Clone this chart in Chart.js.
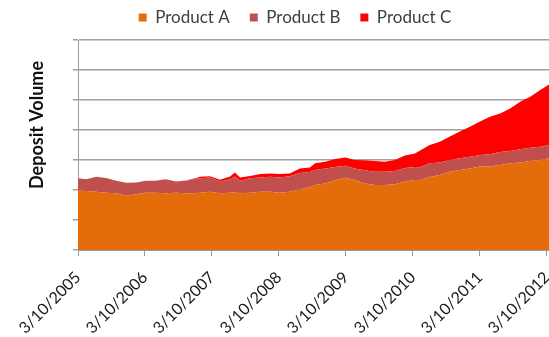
<!DOCTYPE html>
<html><head><meta charset="utf-8">
<script src="https://cdn.jsdelivr.net/npm/chart.js@4"></script>
<style>html,body{margin:0;padding:0;overflow:hidden;background:#fff;width:549px;height:337px}canvas{display:block}</style>
</head><body>
<canvas id="c" width="590" height="337"></canvas>
<script>
const dates = [2005.00, 2005.12, 2005.27, 2005.42, 2005.57, 2005.72, 2005.87, 2006.01, 2006.16, 2006.31,
  2006.46, 2006.61, 2006.76, 2006.82, 2006.97, 2007.12, 2007.27, 2007.34, 2007.42, 2007.57,
  2007.72, 2007.87, 2008.01, 2008.16, 2008.31, 2008.46, 2008.54, 2008.69, 2008.84, 2008.99,
  2009.13, 2009.28, 2009.43, 2009.58, 2009.73, 2009.88, 2010.03, 2010.10, 2010.25, 2010.40,
  2010.55, 2010.70, 2010.85, 2011.00, 2011.15, 2011.30, 2011.45, 2011.60, 2011.75, 2011.90, 2012.03];
const productA = [198, 197, 194, 191, 189, 181, 186, 191, 191, 189,
  191, 189, 189, 191, 194, 189, 191, 192, 189, 191,
  194, 194, 191, 194, 202, 210, 217, 222, 233, 241,
  233, 222, 217, 217, 219, 228, 233, 233, 243, 250,
  261, 267, 272, 278, 278, 283, 289, 292, 297, 300, 306];
const productB = [41, 39, 50, 49, 42, 43, 39, 40, 40, 47,
  37, 42, 49, 48, 48, 39, 45, 53, 42, 48,
  48, 50, 51, 52, 55, 50, 50, 50, 44, 40,
  39, 44, 44, 44, 44, 45, 44, 43, 46, 42,
  39, 39, 39, 39, 41, 44, 41, 44, 44, 44, 44];
const productC = [0, 0, 0, 0, 0, 0, 0, 0, 0, 0,
  0, 1, 2, 5, 4, 6, 9, 13, 11, 8,
  11, 11, 11, 9, 15, 15, 22, 22, 26, 27,
  28, 33, 36, 33, 37, 42, 45, 55, 61, 69,
  78, 89, 100, 111, 125, 128, 142, 158, 170, 189, 202];
const tickYears = [2005, 2006, 2007, 2008, 2009, 2010, 2011, 2012];
const tickLabels = ['3/10/2005', '3/10/2006', '3/10/2007', '3/10/2008', '3/10/2009', '3/10/2010', '3/10/2011', '3/10/2012'];
const seriesNames = ['Product A', 'Product B', 'Product C'];
const yTitle = 'Deposit Volume';

const colors = ['#E46C0A', '#C0504D', '#FF0000'];
const series = [productA, productB, productC];

const yTitlePlugin = {
  id: 'yTitlePlugin',
  afterDraw(chart) {
    const ctx = chart.ctx;
    ctx.save();
    ctx.translate(37, 125);
    ctx.rotate(-Math.PI / 2);
    ctx.font = 'bold 18px Lato';
    ctx.fillStyle = '#111';
    ctx.textAlign = 'center';
    ctx.textBaseline = 'middle';
    ctx.fillText(yTitle, 0, 0);
    ctx.restore();
  }
};
const legendFitPlugin = {
  id: 'legendFitPlugin',
  beforeInit(chart) {
    const lg = chart.legend;
    const orig = lg.fit;
    lg.fit = function () { orig.call(this); this.height += 4; };
  }
};

new Chart(document.getElementById('c'), {
  type: 'line',
  data: {
    datasets: series.map((s, k) => ({
      label: seriesNames[k],
      data: dates.map((d, i) => ({ x: d, y: s[i] })),
      backgroundColor: colors[k],
      borderColor: colors[k],
      borderWidth: 0,
      pointRadius: 0,
      tension: 0,
      fill: k === 0 ? 'origin' : '-1'
    }))
  },
  options: {
    responsive: false,
    animation: false,
    devicePixelRatio: 1,
    layout: { padding: { left: 41, right: 41, top: -11, bottom: 0 } },
    plugins: {
      legend: {
        position: 'top',
        labels: { boxWidth: 8, boxHeight: 8, padding: 20, color: '#404040', font: { family: 'Lato', size: 17 } }
      },
      tooltip: { enabled: false }
    },
    scales: {
      x: {
        type: 'linear',
        min: 2005,
        max: 2012.03,
        afterBuildTicks: s => { s.ticks = tickYears.map(v => ({ value: v })); },
        afterFit: s => { s.paddingLeft = 0; s.paddingRight = 0; s.height = 87; },
        ticks: {
          minRotation: 45, maxRotation: 45, padding: 12, color: '#1a1a1a',
          font: { family: 'Lato', size: 16 },
          callback: v => { const i = tickYears.indexOf(v); return i >= 0 ? tickLabels[i] : ''; }
        },
        grid: { drawOnChartArea: false, drawTicks: true, tickLength: 6, color: '#9a9a9a' },
        border: { color: '#9a9a9a' }
      },
      y: {
        stacked: true,
        min: 0, max: 700,
        afterFit: s => { s.width = 37; },
        ticks: { display: false, stepSize: 100 },
        grid: { color: '#a0a0a0', lineWidth: 1.5, drawTicks: true, tickLength: 5 },
        border: { color: '#9a9a9a' }
      }
    }
  },
  plugins: [yTitlePlugin, legendFitPlugin]
});
</script>
</body></html>
